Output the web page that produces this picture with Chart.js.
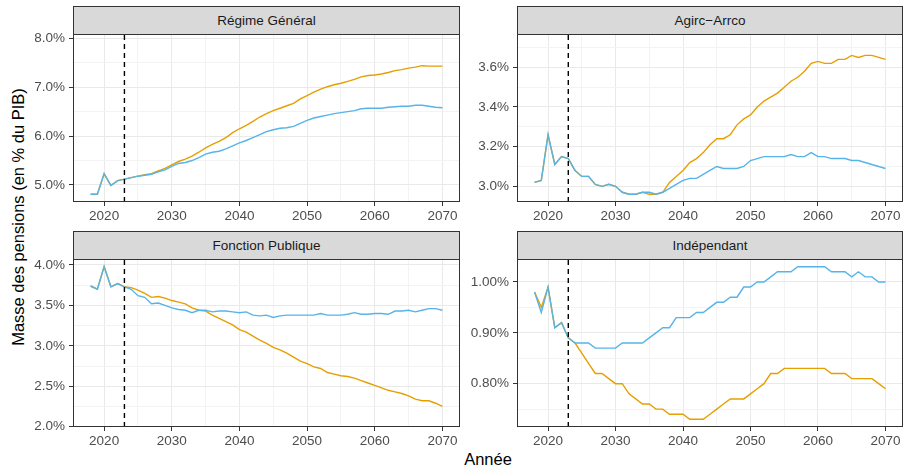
<!DOCTYPE html>
<html>
<head>
  <meta charset="utf-8">
  <title>Masse des pensions</title>
  <script src="https://cdn.jsdelivr.net/npm/chart.js"></script>
  <style>
    body { margin: 0; background: #fff; font-family: "Liberation Sans", Arial, sans-serif; }
    #wrap { position: relative; width: 904px; height: 466px; overflow: hidden; }
    canvas { position: absolute; }
    .strip { position: absolute; box-sizing: border-box; height: 29px; background: #d9d9d9;
             border: 1px solid #333; color: #1a1a1a; font-size: 13.5px; text-align: center; line-height: 27px; }
    .axis-title { position: absolute; color: #000; font-size: 16.5px; white-space: nowrap; }
  </style>
</head>
<body>
  <div id="wrap">
    <div class="axis-title" style="left:488px; top:459px; transform:translate(-50%,-50%)">Année</div>
    <div class="axis-title" style="left:18px; top:217px; transform:translate(-50%,-50%) rotate(-90deg)">Masse des pensions (en % du PIB)</div>
  </div>
  <script>
    const years = [2018, 2019, 2020, 2021, 2022, 2023, 2024, 2025, 2026, 2027,
                   2028, 2029, 2030, 2031, 2032, 2033, 2034, 2035, 2036, 2037,
                   2038, 2039, 2040, 2041, 2042, 2043, 2044, 2045, 2046, 2047,
                   2048, 2049, 2050, 2051, 2052, 2053, 2054, 2055, 2056, 2057,
                   2058, 2059, 2060, 2061, 2062, 2063, 2064, 2065, 2066, 2067,
                   2068, 2069, 2070];
    const projectionStart = 2023;

    // Régime Général
    const rgBlue = [4.81, 4.81, 5.23, 4.99, 5.09, 5.12, 5.15, 5.18, 5.20, 5.22,
                    5.27, 5.31, 5.38, 5.44, 5.46, 5.50, 5.56, 5.63, 5.67, 5.69,
                    5.74, 5.80, 5.86, 5.91, 5.97, 6.03, 6.09, 6.13, 6.16, 6.17,
                    6.20, 6.26, 6.32, 6.37, 6.40, 6.43, 6.46, 6.48, 6.50, 6.52,
                    6.56, 6.57, 6.57, 6.57, 6.59, 6.60, 6.61, 6.61, 6.63, 6.63,
                    6.61, 6.59, 6.58];
    const rgOrange = [4.81, 4.81, 5.23, 4.99, 5.09, 5.12, 5.15, 5.18, 5.21, 5.23,
                      5.29, 5.34, 5.41, 5.48, 5.53, 5.59, 5.67, 5.76, 5.83, 5.89,
                      5.97, 6.07, 6.15, 6.22, 6.30, 6.39, 6.46, 6.52, 6.57, 6.62,
                      6.67, 6.76, 6.83, 6.90, 6.96, 7.01, 7.05, 7.08, 7.12, 7.16,
                      7.21, 7.24, 7.25, 7.27, 7.30, 7.34, 7.36, 7.39, 7.41, 7.44,
                      7.43, 7.43, 7.43];

    // Agirc-Arrco
    const aaBlue = [3.02, 3.03, 3.26, 3.11, 3.15, 3.14, 3.08, 3.05, 3.05, 3.01,
                    3.00, 3.01, 3.00, 2.97, 2.96, 2.96, 2.97, 2.97, 2.96, 2.97,
                    2.99, 3.01, 3.03, 3.04, 3.04, 3.06, 3.08, 3.10, 3.09, 3.09,
                    3.09, 3.10, 3.13, 3.14, 3.15, 3.15, 3.15, 3.15, 3.16, 3.15,
                    3.15, 3.17, 3.15, 3.15, 3.14, 3.14, 3.14, 3.13, 3.13, 3.12,
                    3.11, 3.10, 3.09];
    const aaOrange = [3.02, 3.03, 3.26, 3.11, 3.15, 3.14, 3.08, 3.05, 3.05, 3.01,
                      3.00, 3.01, 3.00, 2.97, 2.96, 2.96, 2.97, 2.96, 2.96, 2.97,
                      3.02, 3.05, 3.08, 3.12, 3.14, 3.17, 3.21, 3.24, 3.24, 3.26,
                      3.31, 3.34, 3.36, 3.40, 3.43, 3.45, 3.47, 3.50, 3.53, 3.55,
                      3.58, 3.62, 3.63, 3.62, 3.62, 3.64, 3.64, 3.66, 3.65, 3.66,
                      3.66, 3.65, 3.64];

    // Fonction Publique
    const fpBlue = [3.74, 3.70, 3.98, 3.73, 3.77, 3.73, 3.70, 3.62, 3.60, 3.52,
                    3.53, 3.50, 3.47, 3.45, 3.44, 3.41, 3.44, 3.44, 3.42, 3.43,
                    3.43, 3.42, 3.41, 3.42, 3.38, 3.37, 3.38, 3.35, 3.37, 3.38,
                    3.38, 3.38, 3.38, 3.38, 3.40, 3.38, 3.38, 3.38, 3.39, 3.41,
                    3.39, 3.39, 3.40, 3.40, 3.39, 3.43, 3.43, 3.44, 3.42, 3.44,
                    3.46, 3.46, 3.44];
    const fpOrange = [3.74, 3.70, 3.98, 3.73, 3.77, 3.73, 3.72, 3.69, 3.65, 3.60,
                      3.61, 3.59, 3.56, 3.54, 3.52, 3.47, 3.44, 3.43, 3.38, 3.34,
                      3.30, 3.26, 3.20, 3.17, 3.12, 3.07, 3.03, 2.98, 2.95, 2.91,
                      2.86, 2.81, 2.78, 2.74, 2.72, 2.67, 2.65, 2.63, 2.62, 2.60,
                      2.57, 2.54, 2.51, 2.48, 2.45, 2.43, 2.41, 2.38, 2.34, 2.32,
                      2.32, 2.29, 2.25];

    // Indépendant
    const indBlue = [0.98, 0.94, 0.99, 0.91, 0.92, 0.89, 0.88, 0.88, 0.88, 0.87,
                     0.87, 0.87, 0.87, 0.88, 0.88, 0.88, 0.88, 0.89, 0.90, 0.91,
                     0.91, 0.93, 0.93, 0.93, 0.94, 0.94, 0.95, 0.96, 0.96, 0.97,
                     0.97, 0.99, 0.99, 1.00, 1.00, 1.01, 1.02, 1.02, 1.02, 1.03,
                     1.03, 1.03, 1.03, 1.03, 1.02, 1.02, 1.02, 1.01, 1.02, 1.01,
                     1.01, 1.00, 1.00];
    const indOrange = [0.98, 0.95, 0.99, 0.91, 0.92, 0.89, 0.88, 0.86, 0.84, 0.82,
                       0.82, 0.81, 0.80, 0.80, 0.78, 0.77, 0.76, 0.76, 0.75, 0.75,
                       0.74, 0.74, 0.74, 0.73, 0.73, 0.73, 0.74, 0.75, 0.76, 0.77,
                       0.77, 0.77, 0.78, 0.79, 0.80, 0.82, 0.82, 0.83, 0.83, 0.83,
                       0.83, 0.83, 0.83, 0.83, 0.82, 0.82, 0.82, 0.81, 0.81, 0.81,
                       0.81, 0.80, 0.79];

    // axis breaks
    const xMajor = [2020, 2030, 2040, 2050, 2060, 2070];
    const xMinor = [2025, 2035, 2045, 2055, 2065];
    const rgMajor = [5.0, 6.0, 7.0, 8.0], rgMinor = [5.5, 6.5, 7.5];
    const aaMajor = [3.0, 3.2, 3.4, 3.6], aaMinor = [3.1, 3.3, 3.5, 3.7];
    const fpMajor = [2.0, 2.5, 3.0, 3.5, 4.0], fpMinor = [2.25, 2.75, 3.25, 3.75];
    const indMajor = [0.80, 0.90, 1.00], indMinor = [0.75, 0.85, 0.95];

    const BLUE = '#56B4E9', ORANGE = '#E69F00';
    Chart.defaults.font.family = '"Liberation Sans", Arial, sans-serif';
    Chart.defaults.font.size = 13.5;

    const panels = [
      {title: 'Régime Général', blue: rgBlue, orange: rgOrange, major: rgMajor, minor: rgMinor,
       min: 4.652, max: 8.088, dec: 1, left: 20, top: 6, width: 442, yw: 53, padR: 2},
      {title: 'Agirc\u2212Arrco', blue: aaBlue, orange: aaOrange, major: aaMajor, minor: aaMinor,
       min: 2.921, max: 3.768, dec: 1, left: 465, top: 6, width: 439, yw: 52, padR: 1},
      {title: 'Fonction Publique', blue: fpBlue, orange: fpOrange, major: fpMajor, minor: fpMinor,
       min: 1.996, max: 4.074, dec: 1, left: 20, top: 231, width: 442, yw: 53, padR: 2},
      {title: 'Indépendant', blue: indBlue, orange: indOrange, major: indMajor, minor: indMinor,
       min: 0.7148, max: 1.0452, dec: 2, left: 465, top: 231, width: 439, yw: 52, padR: 1}
    ];

    function makeTicks(major, minor) {
      return major.map(v => ({value: v}))
        .concat(minor.map(v => ({value: v, isMinor: true})))
        .sort((a, b) => a.value - b.value);
    }

    function points(values) {
      return years.map((yr, i) => ({x: yr, y: values[i]}));
    }

    const gridColor = c => (c.tick && c.tick.isMinor) ? '#f3f3f3' : '#e9e9e9';
    const tickColor = c => (c.tick && c.tick.isMinor) ? 'rgba(0,0,0,0)' : '#333333';

    // full frame around each panel, on top of the data like ggplot's panel.border
    const panelBorder = {
      id: 'panelBorder',
      afterDraw(chart) {
        const a = chart.chartArea, ctx = chart.ctx;
        ctx.save();
        ctx.strokeStyle = '#333333';
        ctx.lineWidth = 1;
        ctx.strokeRect(a.left + 0.5, a.top + 0.5, a.right - a.left - 1, a.bottom - a.top - 1);
        ctx.restore();
      }
    };

    const wrap = document.getElementById('wrap');

    panels.forEach(p => {
      const canvas = document.createElement('canvas');
      canvas.width = p.width;
      canvas.height = 220;
      canvas.style.left = p.left + 'px';
      canvas.style.top = p.top + 'px';
      wrap.appendChild(canvas);

      const strip = document.createElement('div');
      strip.className = 'strip';
      strip.style.left = (p.left + p.yw) + 'px';
      strip.style.top = p.top + 'px';
      strip.style.width = (p.width - p.padR - p.yw) + 'px';
      strip.textContent = p.title;
      wrap.appendChild(strip);

      new Chart(canvas, {
        type: 'line',
        data: {
          datasets: [
            {data: [{x: projectionStart, y: p.min}, {x: projectionStart, y: p.max}],
             borderColor: '#000000', borderWidth: 1.4, borderDash: [5, 4]},
            {data: points(p.blue), borderColor: BLUE, borderWidth: 1.4},
            {data: points(p.orange), borderColor: ORANGE, borderWidth: 1.4}
          ]
        },
        options: {
          responsive: false,
          animation: false,
          events: [],
          layout: {padding: {top: 28, right: p.padR, left: 0, bottom: 0}},
          elements: {point: {radius: 0}, line: {tension: 0, fill: false}},
          plugins: {legend: {display: false}, tooltip: {enabled: false}},
          scales: {
            x: {
              type: 'linear', bounds: 'data', min: 2015.4, max: 2072.6,
              afterBuildTicks: s => { s.ticks = makeTicks(xMajor, xMinor); },
              afterFit: s => { s.height = 24; },
              border: {display: false},
              grid: {color: gridColor, tickColor: tickColor, lineWidth: 1, tickLength: 4},
              ticks: {
                autoSkip: false, maxRotation: 0, padding: 2, color: '#4d4d4d',
                callback: (v, i, t) => t[i].isMinor ? '' : String(v)
              }
            },
            y: {
              type: 'linear', bounds: 'data', min: p.min, max: p.max,
              afterBuildTicks: s => { s.ticks = makeTicks(p.major, p.minor); },
              afterFit: s => { s.width = p.yw; },
              border: {display: false},
              grid: {color: gridColor, tickColor: tickColor, lineWidth: 1, tickLength: 4},
              ticks: {
                autoSkip: false, padding: 4, color: '#4d4d4d',
                callback: (v, i, t) => t[i].isMinor ? '' : v.toFixed(p.dec) + '%'
              }
            }
          }
        },
        plugins: [panelBorder]
      });
    });
  </script>
</body>
</html>
